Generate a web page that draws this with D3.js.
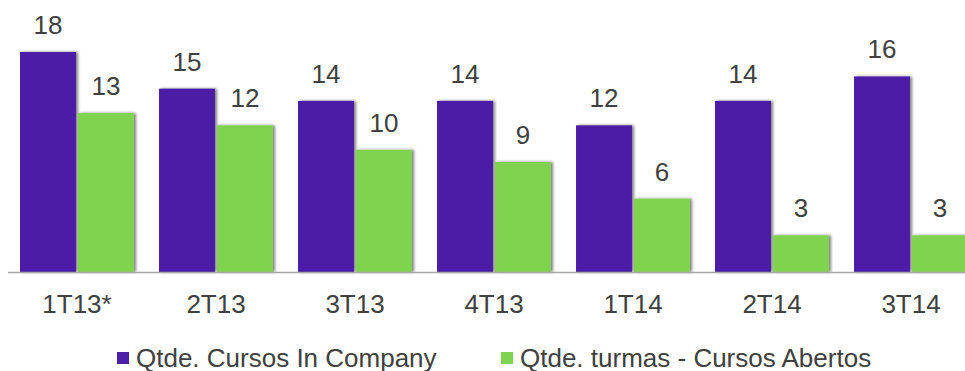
<!DOCTYPE html>
<html><head><meta charset="utf-8">
<script src="https://cdn.jsdelivr.net/npm/d3@7"></script>
<style>body{margin:0;background:#fff;}svg{display:block;font-family:"Liberation Sans",Arial,sans-serif;}</style>
</head><body><svg id="c" width="965" height="371"></svg>
<script>
const categories = ["1T13*","2T13","3T13","4T13","1T14","2T14","3T14"];
const seriesNames = ["Qtde. Cursos In Company","Qtde. turmas - Cursos Abertos"];
const inCompany = [18,15,14,14,12,14,16];
const abertos = [13,12,10,9,6,3,3];
const colors = ["#4b1fa6","#80d350"];

const svg = d3.select("#c");
const defs = svg.append("defs");
const f = defs.append("filter").attr("id","sh").attr("x","-20%").attr("y","-20%").attr("width","140%").attr("height","140%");
f.append("feGaussianBlur").attr("in","SourceAlpha").attr("stdDeviation",1.8).attr("result","b");
f.append("feOffset").attr("in","b").attr("dx",1.5).attr("dy",0).attr("result","o");
f.append("feComponentTransfer").attr("in","o").attr("result","s").append("feFuncA").attr("type","linear").attr("slope",0.5);
const m = f.append("feMerge"); m.append("feMergeNode").attr("in","s"); m.append("feMergeNode").attr("in","SourceGraphic");

const x0 = d3.scaleBand().domain(categories).range([7.5, 7.5 + 139*categories.length]).paddingInner(0.18).paddingOuter(0.09);
const x1 = d3.scaleBand().domain([0,1]).range([0, x0.bandwidth()]).paddingInner(0.035);
const y = d3.scaleLinear().domain([0,18]).range([272,52]);

const data = categories.map((c,i)=>({c, v:[inCompany[i], abertos[i]]}));
const g = svg.append("g");
data.forEach(d=>{
  d.v.forEach((v,j)=>{
    g.append("rect").attr("x", x0(d.c)+x1(j)).attr("y", y(v)).attr("width", x1.bandwidth()).attr("height", y(0)-y(v))
      .attr("fill", colors[j]).attr("filter","url(#sh)");
    g.append("text").attr("x", x0(d.c)+x1(j)+x1.bandwidth()/2).attr("y", y(v)-18)
      .attr("text-anchor","middle").attr("font-size",26).attr("fill","#404040").text(v);
  });
});

svg.append("line").attr("x1",8).attr("x2",965).attr("y1",272.5).attr("y2",272.5).attr("stroke","#a6a6a6").attr("stroke-width",1.5);

const ax = d3.axisBottom(x0).tickSize(0).tickPadding(0);
const axg = svg.append("g").attr("transform","translate(0,272)").call(ax);
axg.select(".domain").remove();
axg.selectAll("text").attr("font-size",26).attr("fill","#404040").attr("font-family","Liberation Sans, Arial, sans-serif").attr("dy",null).attr("y",41);

const legendX = [117, 501];
seriesNames.forEach((n,i)=>{
  svg.append("rect").attr("x",legendX[i]).attr("y",352).attr("width",12).attr("height",12).attr("fill",colors[i]);
  svg.append("text").attr("x",legendX[i]+19).attr("y",366.5).attr("font-size",26).attr("fill","#404040").text(n);
});
</script></body></html>
